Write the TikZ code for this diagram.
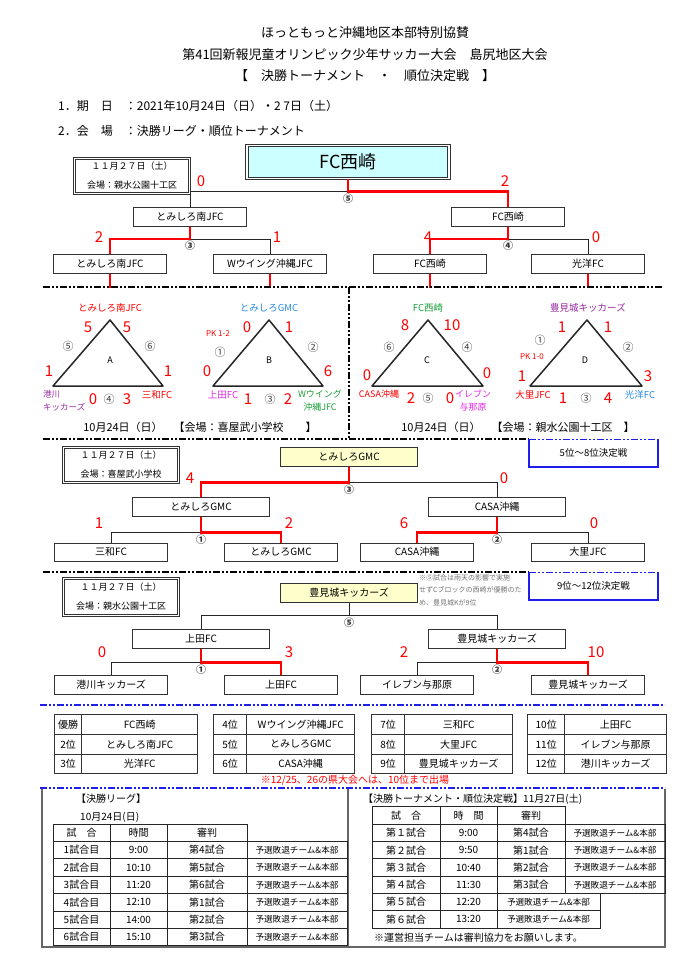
\documentclass[tikz,border=0pt]{standalone}
\usepackage{fontspec}
\setmainfont{Noto Sans CJK JP}
\usetikzlibrary{matrix, positioning}

\definecolor{champcyan}{RGB}{204,255,255}
\definecolor{markyellow}{RGB}{255,255,204}
\definecolor{teamblue}{RGB}{40,140,230}
\definecolor{teamgreen}{RGB}{30,160,60}
\definecolor{teampurple}{RGB}{150,40,160}
\definecolor{teampink}{RGB}{230,40,230}
\definecolor{sepblue}{RGB}{30,30,235}

\begin{document}
\begin{tikzpicture}[x=1pt, y=-1pt,
    head/.style={font=\fontsize{13}{15}\selectfont, inner sep=0pt},
    subhead/.style={font=\fontsize{12}{14}\selectfont, inner sep=0pt, anchor=west},
    team/.style={draw=black!80, line width=1pt, fill=white, minimum width=113pt, minimum height=19pt, inner sep=0pt, font=\fontsize{10}{12}\selectfont},
    wideteam/.style={team, minimum width=137pt},
    champbox/.style={draw=black!80, double, double distance=1.5pt, line width=1pt, fill=champcyan, minimum width=202pt, minimum height=33pt, font=\fontsize{18}{20}\selectfont},
    info/.style={draw=black!80, double, double distance=1.3pt, line width=0.8pt, align=center, minimum width=115pt, minimum height=35pt, inner sep=0pt, font=\fontsize{9}{19}\selectfont},
    win/.style={draw=red, line width=2.6pt},
    lose/.style={draw=black!85, line width=1pt},
    score/.style={text=red, font=\fontsize{15}{15}\selectfont, inner sep=0pt},
    mno/.style={font=\fontsize{10}{10}\selectfont\bfseries, text=black!80, inner sep=0pt},
    tri/.style={draw=black!85, line width=1.5pt, line join=round},
    tno/.style={font=\fontsize{11}{11}\selectfont, text=black!75, inner sep=0pt},
    tname/.style={font=\fontsize{9.5}{13}\selectfont, inner sep=0pt, align=center},
    pk/.style={text=red, font=\fontsize{8}{8}\selectfont, inner sep=0pt},
    gletter/.style={font=\fontsize{9}{9}\selectfont, inner sep=0pt},
    dateline/.style={font=\fontsize{11}{13}\selectfont, inner sep=0pt},
    sep/.style={line width=1.6pt, dash pattern=on 7pt off 2pt on 2pt off 2pt on 2pt off 2pt},
    bluesep/.style={sep, draw=sepblue},
    blueframe/.style={draw=sepblue, line width=2pt},
    playoff/.style={inner sep=0pt, minimum width=129pt, minimum height=27pt, font=\fontsize{9.5}{11}\selectfont},
    rank/.style={matrix of nodes, inner sep=0pt, row sep=-1pt, column sep=-1pt, nodes={draw=black!80, line width=1pt, minimum height=19.7pt, inner sep=0pt, font=\fontsize{10}{12}\selectfont, anchor=center}},
    cell/.style={draw=black!85, line width=1pt, minimum height=17.4pt, inner sep=0pt, font=\fontsize{10}{12}\selectfont},
    refcell/.style={cell, font=\fontsize{8.6}{10}\selectfont},
    frame/.style={draw=black!60, line width=1.5pt},
    note/.style={font=\fontsize{7}{12.5}\selectfont, text=black!55, align=left, inner sep=0pt},
    tabtext/.style={font=\fontsize{10}{12}\selectfont, inner sep=0pt, anchor=west}]

\fill[white] (0,0) rectangle (700,971);
\useasboundingbox (0,0) rectangle (700,971);

\node[head] (hdA) at (365,33) {ほっともっと沖縄地区本部特別協賛};
\node[head] (hdB) at (365,55) {第41回新報児童オリンピック少年サッカー大会　島尻地区大会};
\node[head] (hdC) at (365,76) {【　決勝トーナメント　・　順位決定戦　】};
\node[subhead] (dtA) at (58,106) {1．期　日　：2021年10月24日（日）・2 7日（土）};
\node[subhead] (dtB) at (58,131) {2．会　場　：決勝リーグ・順位トーナメント};

% final tournament
\node[champbox] (champ) at (348,162) {FC西崎};
\node[info] (infoA) at (132,176) {１１月２７日（土）\\会場：親水公園十工区};
\node[team] (sfL) at (190,217) {とみしろ南JFC};
\node[team] (sfR) at (508,217) {FC西崎};
\node[team] (qA) at (110,264) {とみしろ南JFC};
\node[team] (qB) at (270,264) {Wウイング沖縄JFC};
\node[team] (qC) at (430,264) {FC西崎};
\node[team] (qD) at (588,264) {光洋FC};

\coordinate[below=12.5pt of champ] (m5);
\coordinate[below=12pt of sfL] (m3);
\coordinate[below=12pt of sfR] (m4);
\foreach \q in {qA,qB,qC,qD} \coordinate[below=14pt of \q] (g\q);

\draw[lose] (m5) -| (sfL);
\draw[win] (champ) -- (m5) -| (sfR);
\draw[lose] (m3) -| (qB);
\draw[win] (sfL) -- (m3) -| (qA);
\draw[lose] (m4) -| (qD);
\draw[win] (sfR) -- (m4) -| (qC);
\foreach \q in {qA,qB,qC,qD} \draw[win] (\q) -- (g\q);

\node[mno, below=2pt of m5] (k5) {⑤};
\node[mno, below=2pt of m3] (k3) {③};
\node[mno, below=2pt of m4] (k4) {④};
\foreach \x/\y/\v [count=\i] in {201/181/0, 505/181/2, 99/237/2, 277/237/1, 428/237/4, 596/237/0}
  \node[score] (fs\i) at (\x,\y) {\v};

\draw[sep] (43,287) -- (663,287);
\draw[sep] (349,287) -- (349,439);
\draw[sep] (43,439) -- (529,439);

% league A
\coordinate (aT) at (110,320); \coordinate (aL) at (53,386); \coordinate (aR) at (163,386);
\draw[tri] (aT) -- (aL) -- (aR) -- cycle;
\node[tname, text=red] (aN1) at (110,308) {とみしろ南JFC};
\node[tname, text=teampurple, align=left, anchor=west, font=\fontsize{8.5}{13}\selectfont] (aN2) at (43,401) {港川\\キッカーズ};
\node[tname, text=red] (aN3) at (157,395) {三和FC};
\node[gletter] (aG) at (110,360) {A};
\foreach \x/\y/\v [count=\i] in {88/327/5, 127/327/5, 49/371/1, 168/371/1, 93/399/0, 127/399/3}
  \node[score] (aS\i) at (\x,\y) {\v};
\foreach \x/\y/\v [count=\i] in {68/346/⑤, 150/346/⑥, 109/399/④}
  \node[tno] (aM\i) at (\x,\y) {\v};

% league B
\coordinate (bT) at (269,320); \coordinate (bL) at (213,386); \coordinate (bR) at (323,386);
\draw[tri] (bT) -- (bL) -- (bR) -- cycle;
\node[tname, text=teamblue] (bN1) at (269,308) {とみしろGMC};
\node[tname, text=teampink] (bN2) at (223,395) {上田FC};
\node[tname, text=teamgreen, font=\fontsize{9}{13}\selectfont] (bN3) at (320,401) {Wウイング\\沖縄JFC};
\node[gletter] (bG) at (269,360) {B};
\node[pk] (bPK) at (218,334) {PK 1-2};
\foreach \x/\y/\v [count=\i] in {247/327/0, 289/327/1, 207/371/0, 328/371/6, 248/399/1, 288/399/2}
  \node[score] (bS\i) at (\x,\y) {\v};
\foreach \x/\y/\v [count=\i] in {220/352/①, 313/347/②, 270/399/③}
  \node[tno] (bM\i) at (\x,\y) {\v};

% league C
\coordinate (cT) at (428,320); \coordinate (cL) at (372,386); \coordinate (cR) at (483,386);
\draw[tri] (cT) -- (cL) -- (cR) -- cycle;
\node[tname, text=teamgreen] (cN1) at (428,308) {FC西崎};
\node[tname, text=red, font=\fontsize{9}{13}\selectfont] (cN2) at (379,394) {CASA沖縄};
\node[tname, text=teampink, font=\fontsize{9}{13}\selectfont] (cN3) at (473,401) {イレブン\\与那原};
\node[gletter] (cG) at (427,360) {C};
\foreach \x/\y/\v [count=\i] in {405/325/8, 452/325/10, 367/375/0, 487/373/0, 411/398/2, 450/398/0}
  \node[score] (cS\i) at (\x,\y) {\v};
\foreach \x/\y/\v [count=\i] in {389/347/⑥, 467/347/④, 428/398/⑤}
  \node[tno] (cM\i) at (\x,\y) {\v};

% league D
\coordinate (dT) at (587,320); \coordinate (dL) at (530,386); \coordinate (dR) at (642,386);
\draw[tri] (dT) -- (dL) -- (dR) -- cycle;
\node[tname, text=teampurple] (dN1) at (588,308) {豊見城キッカーズ};
\node[tname, text=red] (dN2) at (533,395) {大里JFC};
\node[tname, text=teamblue] (dN3) at (640,395) {光洋FC};
\node[gletter] (dG) at (585,360) {D};
\node[pk] (dPK) at (532,357) {PK 1-0};
\foreach \x/\y/\v [count=\i] in {562/327/1, 608/327/1, 522/376/1, 648/376/3, 563/398/1, 608/398/4}
  \node[score] (dS\i) at (\x,\y) {\v};
\foreach \x/\y/\v [count=\i] in {540/340/①, 628/347/②, 586/398/③}
  \node[tno] (dM\i) at (\x,\y) {\v};

\node[dateline] (dayA) at (200,427) {10月24日（日）　【会場：喜屋武小学校　　】};
\node[dateline] (dayB) at (518,427) {10月24日（日）　【会場：親水公園十工区　】};

% 5-8
\node[playoff] (po58) at (593.5,453) {5位～8位決定戦};
\draw[blueframe] (po58.north west) -- (po58.south west) -- (po58.south east) -- (po58.north east);
\draw[bluesep] (po58.north west) -- (po58.north east);
\node[info] (infoB) at (121,465) {１１月２７日（土）\\会場：喜屋武小学校};
\node[wideteam, fill=markyellow] (mTop) at (349,457) {とみしろGMC};
\node[wideteam] (mL) at (201,507) {とみしろGMC};
\node[wideteam] (mR) at (497,507) {CASA沖縄};
\node[team, minimum height=18pt] (mA) at (111,552) {三和FC};
\node[team, minimum height=18pt] (mB) at (281,552) {とみしろGMC};
\node[team, minimum height=18pt] (mC) at (417,552) {CASA沖縄};
\node[team, minimum height=18pt] (mD) at (588,552) {大里JFC};

\coordinate[below=15.5pt of mTop] (n3);
\coordinate[below=15.5pt of mL] (n1);
\coordinate[below=15.5pt of mR] (n2);
\draw[lose] (n3) -| (mR);
\draw[win] (mTop) -- (n3) -| (mL);
\draw[lose] (n1) -| (mA);
\draw[win] (mL) -- (n1) -| (mB);
\draw[lose] (n2) -| (mD);
\draw[win] (mR) -- (n2) -| (mC);
\node[mno, below=2pt of n3] (k3b) {③};
\node[mno, below=2pt of n1] (k1b) {①};
\node[mno, below=2pt of n2] (k2b) {②};
\foreach \x/\y/\v [count=\i] in {190/478/4, 504/478/0, 99/523/1, 289/523/2, 404/523/6, 594/523/0}
  \node[score] (ms\i) at (\x,\y) {\v};

\draw[sep] (43,572) -- (529,572);

% 9-12
\node[playoff] (po912) at (593.5,586) {9位～12位決定戦};
\draw[blueframe] (po912.north west) -- (po912.south west) -- (po912.south east) -- (po912.north east);
\draw[bluesep] (po912.north west) -- (po912.north east);
\node[info, minimum height=37pt] (infoC) at (121,597) {１１月２７日（土）\\会場：親水公園十工区};
\node[wideteam, fill=markyellow] (lTop) at (349,593) {豊見城キッカーズ};
\node[note, anchor=north west] (rain) at (419,574) {※⑤試合は雨天の影響で実施\\せずCブロックの西崎が優勝のた\\め、豊見城Kが9位};
\node[wideteam] (lL) at (201,639) {上田FC};
\node[wideteam] (lR) at (497,639) {豊見城キッカーズ};
\node[team] (lA) at (111,685) {港川キッカーズ};
\node[team] (lB) at (281,685) {上田FC};
\node[team] (lC) at (417,685) {イレブン与那原};
\node[team] (lD) at (588,685) {豊見城キッカーズ};

\coordinate[below=12.5pt of lTop] (p5);
\coordinate[below=13.5pt of lL] (p1);
\coordinate[below=13.5pt of lR] (p2);
\draw[lose] (p5) -| (lL);
\draw[lose] (lTop) -- (p5) -| (lR);
\draw[lose] (p1) -| (lA);
\draw[win] (lL) -- (p1) -| (lB);
\draw[lose] (p2) -| (lC);
\draw[win] (lR) -- (p2) -| (lD);
\node[mno, below=2pt of p5] (k5c) {⑤};
\node[mno, below=2pt of p1] (k1c) {①};
\node[mno, below=2pt of p2] (k2c) {②};
\foreach \x/\y/\v [count=\i] in {102/652/0, 289/652/3, 404/652/2, 596/652/10}
  \node[score] (ls\i) at (\x,\y) {\v};

% final standings
\draw[bluesep] (40,705) -- (665,705);
\matrix (rkA) [rank, anchor=north west, column 1/.style={nodes={minimum width=27pt}}, column 2/.style={nodes={minimum width=116pt}}] at (54,714)
{ 優勝 & FC西崎 \\ 2位 & とみしろ南JFC \\ 3位 & 光洋FC \\ };
\matrix (rkB) [rank, anchor=north west, column 1/.style={nodes={minimum width=33pt}}, column 2/.style={nodes={minimum width=108pt}}] at (213,714)
{ 4位 & Wウイング沖縄JFC \\ 5位 & とみしろGMC \\ 6位 & CASA沖縄 \\ };
\matrix (rkC) [rank, anchor=north west, column 1/.style={nodes={minimum width=33pt}}, column 2/.style={nodes={minimum width=108pt}}] at (371,714)
{ 7位 & 三和FC \\ 8位 & 大里JFC \\ 9位 & 豊見城キッカーズ \\ };
\matrix (rkD) [rank, anchor=north west, column 1/.style={nodes={minimum width=37pt}}, column 2/.style={nodes={minimum width=102pt}}] at (527,714)
{ 10位 & 上田FC \\ 11位 & イレブン与那原 \\ 12位 & 港川キッカーズ \\ };
\node[text=red, font=\fontsize{10}{12}\selectfont, inner sep=0pt] (pref) at (355,780) {※12/25、26の県大会へは、10位まで出場};
\draw[bluesep] (40,788) -- (665,788);

% schedules
\draw[frame] (42,789) -- (42,947) -- (665,947) -- (665,789);
\draw[frame] (348,789) -- (348,947);
\node[tabtext] (lgT) at (76,799) {【決勝リーグ】};
\node[tabtext] (lgD) at (80,817) {10月24日(日)};
\node[cell, minimum width=57pt] (lq-0-1) at (81.5,832.7) {試　合};
\node[cell, minimum width=57pt] (lq-0-2) at (138.5,832.7) {時間};
\node[cell, minimum width=80pt] (lq-0-3) at (207,832.7) {審判};
\foreach \gm/\tm/\rf [count=\i] in {1試合目/9:00/第4試合, 2試合目/10:10/第5試合, 3試合目/11:20/第6試合, 4試合目/12:10/第1試合, 5試合目/14:00/第2試合, 6試合目/15:10/第3試合} {
  \node[cell, minimum width=57pt] (lq-\i-1) at (81.5,{832.7+17.4*\i}) {\gm};
  \node[cell, minimum width=57pt] (lq-\i-2) at (138.5,{832.7+17.4*\i}) {\tm};
  \node[cell, minimum width=80pt] (lq-\i-3) at (207,{832.7+17.4*\i}) {\rf};
  \node[refcell, minimum width=100pt] (lq-\i-4) at (297,{832.7+17.4*\i}) {予選敗退チーム\&本部};
}

\node[tabtext] (koT) at (363,799) {【決勝トーナメント・順位決定戦】11月27日(土)};
\node[cell, minimum width=68pt] (kq-0-1) at (406,815.6) {試　合};
\node[cell, minimum width=57pt] (kq-0-2) at (468.5,815.6) {時　間};
\node[cell, minimum width=68pt] (kq-0-3) at (531,815.6) {審判};
\foreach \gm/\tm/\rf [count=\i] in {第１試合/9:00/第4試合, 第２試合/9:50/第1試合, 第３試合/10:40/第2試合, 第４試合/11:30/第3試合} {
  \node[cell, minimum width=68pt, minimum height=17.3pt] (kq-\i-1) at (406,{815.6+17.3*\i}) {\gm};
  \node[cell, minimum width=57pt, minimum height=17.3pt] (kq-\i-2) at (468.5,{815.6+17.3*\i}) {\tm};
  \node[cell, minimum width=68pt, minimum height=17.3pt] (kq-\i-3) at (531,{815.6+17.3*\i}) {\rf};
  \node[refcell, minimum width=100pt, minimum height=17.3pt] (kq-\i-4) at (615,{815.6+17.3*\i}) {予選敗退チーム\&本部};
}
\foreach \gm/\tm [count=\i from 5] in {第５試合/12:20, 第６試合/13:20} {
  \node[cell, minimum width=68pt, minimum height=17.3pt] (kq-\i-1) at (406,{815.6+17.3*\i}) {\gm};
  \node[cell, minimum width=57pt, minimum height=17.3pt] (kq-\i-2) at (468.5,{815.6+17.3*\i}) {\tm};
  \node[refcell, minimum width=103pt, minimum height=17.3pt] (kq-\i-3) at (548.5,{815.6+17.3*\i}) {予選敗退チーム\&本部};
}
\node[tabtext] (koN) at (374,938) {※運営担当チームは審判協力をお願いします。};

\end{tikzpicture}
\end{document}
